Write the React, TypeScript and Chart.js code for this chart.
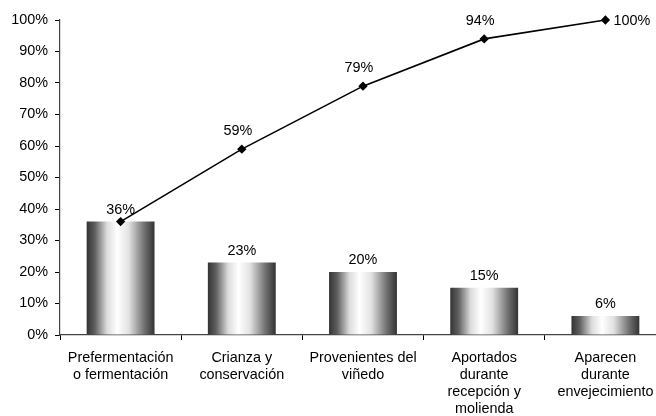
import React, { useEffect, useRef } from "react";
import { Chart, registerables } from "chart.js";

Chart.register(...registerables);

const categories: string[][] = [
  ["Prefermentación", "o fermentación"],
  ["Crianza y", "conservación"],
  ["Provenientes del", "viñedo"],
  ["Aportados", "durante", "recepción y", "molienda"],
  ["Aparecen", "durante", "envejecimiento"],
];
const barValues: number[] = [36, 23, 20, 15, 6];
const cumulativeValues: number[] = [36, 59, 79, 94, 100];
const yTicks: number[] = [0, 10, 20, 30, 40, 50, 60, 70, 80, 90, 100];

const FONT = "'Liberation Sans', Arial, sans-serif";
const FS = 14.4;
const BAR_PCT = 0.56;
const CANVAS_W = 680;
const CANVAS_H = 416;

const labelPlugin = {
  id: "valueLabels",
  afterDatasetsDraw(chart: any) {
    const ctx = chart.ctx;
    const xs = chart.scales.x;
    const ys = chart.scales.y;
    ctx.save();
    ctx.fillStyle = "#000";
    ctx.font = `${FS}px ${FONT}`;
    ctx.textBaseline = "middle";
    barValues.forEach((v, i) => {
      const x = xs.getPixelForValue(i);
      const y = ys.getPixelForValue(v);
      ctx.textAlign = "center";
      ctx.fillText(`${v}%`, x, y - 12);
    });
    cumulativeValues.forEach((v, i) => {
      if (i === 0) return;
      const x = xs.getPixelForValue(i);
      const y = ys.getPixelForValue(v);
      if (i === cumulativeValues.length - 1) {
        ctx.textAlign = "left";
        ctx.fillText(`${v}%`, x + 8, y + 1);
      } else {
        ctx.textAlign = "center";
        ctx.fillText(`${v}%`, x - 4, y - 18);
      }
    });
    ctx.restore();
  },
};

function barGradient(c: any) {
  const ch = c.chart;
  const xs = ch.scales && ch.scales.x;
  if (!xs || c.dataIndex === undefined) return "#888";
  const cx = xs.getPixelForValue(c.dataIndex);
  const w = (xs.width / categories.length) * BAR_PCT;
  if (!Number.isFinite(cx) || !Number.isFinite(w) || w <= 0) return "#888";
  const g = ch.ctx.createLinearGradient(cx - w / 2, 0, cx + w / 2, 0);
  g.addColorStop(0, "#333333");
  g.addColorStop(0.12, "#5f5f5f");
  g.addColorStop(0.3, "#dcdcdc");
  g.addColorStop(0.45, "#ffffff");
  g.addColorStop(0.62, "#e2e2e2");
  g.addColorStop(0.85, "#707070");
  g.addColorStop(1, "#333333");
  return g;
}

export default function App() {
  const ref = useRef<HTMLCanvasElement | null>(null);
  useEffect(() => {
    if (!ref.current) return;
    Chart.defaults.font.family = FONT;
    Chart.defaults.font.size = FS;
    Chart.defaults.color = "#000";
    const chart = new Chart(ref.current, {
      type: "bar",
      data: {
        labels: categories,
        datasets: [
          {
            type: "line",
            label: "Acumulado",
            data: cumulativeValues,
            borderColor: "#000",
            backgroundColor: "#000",
            borderWidth: 1.6,
            pointStyle: "rectRot",
            pointRadius: 3.5,
            pointBackgroundColor: "#000",
            pointBorderColor: "#000",
            tension: 0,
            clip: false,
            order: 0,
          } as any,
          {
            type: "bar",
            label: "Porcentaje",
            data: barValues,
            barPercentage: BAR_PCT,
            categoryPercentage: 1,
            borderWidth: 0,
            order: 1,
            backgroundColor: barGradient,
          } as any,
        ],
      },
      options: {
        responsive: false,
        animation: false,
        layout: { padding: { left: 0, top: 20, right: CANVAS_W - 666, bottom: 0 } },
        plugins: {
          legend: { display: false },
          tooltip: { enabled: false },
        },
        scales: {
          x: {
            offset: true,
            grid: {
              offset: true,
              drawOnChartArea: false,
              drawTicks: true,
              tickLength: 5,
              color: "#000",
            },
            border: { display: true, color: "#444", width: 1.2 },
            ticks: {
              autoSkip: false,
              maxRotation: 0,
              minRotation: 0,
              padding: 10,
              color: "#000",
              font: { size: FS, lineHeight: 1.18 },
            },
            afterFit: (s: any) => {
              s.height = CANVAS_H - 335;
            },
          },
          y: {
            min: 0,
            max: 100,
            afterBuildTicks: (s: any) => {
              s.ticks = yTicks.map((v) => ({ value: v }));
            },
            grid: {
              drawOnChartArea: false,
              drawTicks: true,
              tickLength: 5,
              color: "#000",
            },
            border: { display: true, color: "#444", width: 1.2 },
            ticks: {
              padding: 7,
              color: "#000",
              callback: (v: any) => `${v}%`,
              font: { size: FS },
            },
            afterFit: (s: any) => {
              s.width = 60;
            },
          },
        },
      },
      plugins: [labelPlugin],
    });
    return () => chart.destroy();
  }, []);
  return (
    <div
      style={{
        position: "fixed",
        left: 0,
        top: 0,
        width: 656,
        height: 416,
        overflow: "hidden",
        background: "#fff",
      }}
    >
      <canvas
        ref={ref}
        width={CANVAS_W}
        height={CANVAS_H}
        style={{ width: CANVAS_W, height: CANVAS_H, display: "block" }}
      />
    </div>
  );
}
